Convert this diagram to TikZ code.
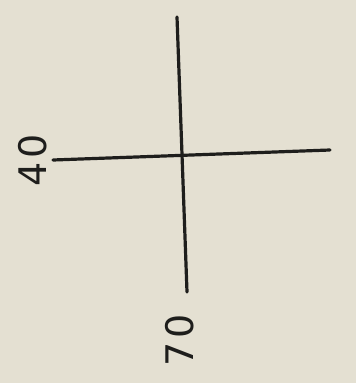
\documentclass[tikz,border=0pt]{standalone}
\usepackage{fontspec}
\setmainfont{DejaVu Sans}
\definecolor{paper}{RGB}{228,224,210}
\definecolor{ink}{RGB}{30,30,28}
\begin{document}
\begin{tikzpicture}[x=1pt,y=-1pt,
  stroke/.style={draw=ink, line width=3.2pt, line cap=round},
  num/.style={text=ink, rotate=90, font=\fontsize{38}{38}\selectfont\addfontfeature{LetterSpace=10}, inner sep=0pt}]
  \fill[paper] (0,0) rectangle (356,383);
  \useasboundingbox (0,0) rectangle (356,383);
  % axes
  \coordinate (top) at (177,17);
  \coordinate (bottom) at (187,292);
  \coordinate (left) at (53,160);
  \coordinate (right) at (330,150);
  \draw[stroke] (top) -- (bottom);
  \draw[stroke] (left) -- (right);
  % labels
  \node[num] (forty) at (33,160) {40};
  \node[num] (seventy) at (180,340) {70};
\end{tikzpicture}
\end{document}
